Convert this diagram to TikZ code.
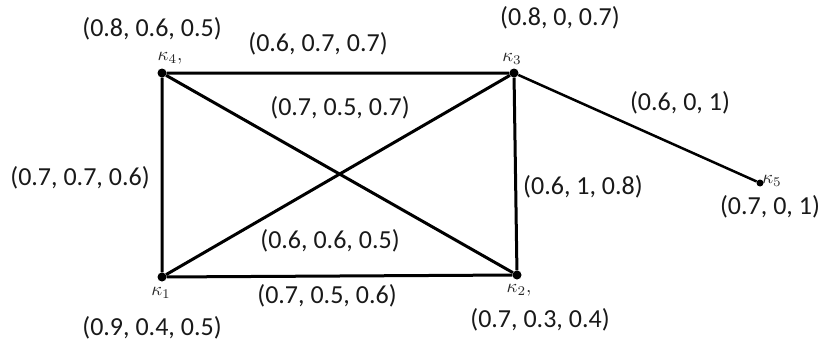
\documentclass[tikz,border=0pt]{standalone}
\usepackage{fontspec}
\usepackage{graphicx}
\setmainfont{Carlito}
\newcommand{\klabtext}[1]{\scalebox{1.9}{$#1$}}
\begin{document}
\begin{tikzpicture}[x=1pt,y=-1pt,
  vtx/.style={circle,fill=black,inner sep=0pt,minimum size=9pt},
  edge/.style={line width=3pt},
  lab/.style={font=\fontsize{26}{30}\selectfont,inner sep=0pt,text=black!90},
  klab/.style={inner sep=0pt,text=black!85}]
\useasboundingbox (0,0) rectangle (839,348);
\node[vtx] (k4) at (162,73) {};
\node[vtx] (k3) at (514,73) {};
\node[vtx] (k1) at (162,277) {};
\node[vtx] (k2) at (517,275) {};
\node[vtx,minimum size=7pt] (k5) at (760,183) {};
\draw[edge] (k4) -- (k3) -- (k2) -- (k1) -- (k4);
\draw[edge] (k4) -- (k2);
\draw[edge] (k1) -- (k3);
\draw[line width=2.5pt] (k3) -- (k5);
\node[klab] (n4) at (170,58) {\klabtext{\kappa_4,}};
\node[klab] (n3) at (512,59) {\klabtext{\kappa_3}};
\node[klab] (n1) at (161,293) {\klabtext{\kappa_1}};
\node[klab] (n2) at (519,290) {\klabtext{\kappa_2,}};
\node[klab] (n5) at (772,181) {\klabtext{\kappa_5}};
\node[lab] (a4) at (152,29) {(0.8, 0.6, 0.5)};
\node[lab] (e43) at (318,44) {(0.6, 0.7, 0.7)};
\node[lab] (a3) at (560,18) {(0.8, 0, 0.7)};
\node[lab] (e13) at (340,108) {(0.7, 0.5, 0.7)};
\node[lab] (e35) at (680,103) {(0.6, 0, 1)};
\node[lab] (e41) at (80,178) {(0.7, 0.7, 0.6)};
\node[lab] (e32) at (583,187) {(0.6, 1, 0.8)};
\node[lab] (a5) at (770,207) {(0.7, 0, 1)};
\node[lab] (e42) at (330,241) {(0.6, 0.6, 0.5)};
\node[lab] (e12) at (327,296) {(0.7, 0.5, 0.6)};
\node[lab] (a1) at (152,328) {(0.9, 0.4, 0.5)};
\node[lab] (a2) at (540,320) {(0.7, 0.3, 0.4)};
\end{tikzpicture}
\end{document}
